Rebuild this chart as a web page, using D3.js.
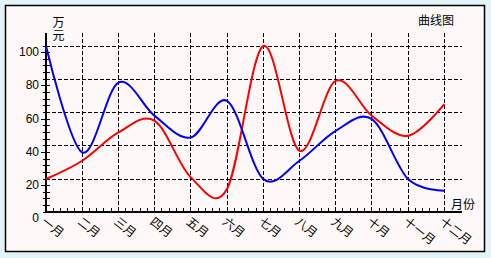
<!DOCTYPE html>
<html>
<head>
<meta charset="utf-8">
<script src="https://cdn.jsdelivr.net/npm/d3@7"></script>
<style>
  html, body { margin: 0; padding: 0; background: #e3f4f8; }
  svg { display: block; }
  text { font-family: "Liberation Sans", Arial, sans-serif; font-size: 12px; fill: #000; }
  .cjk { font-family: "Noto Sans CJK SC", sans-serif; }
</style>
</head>
<body>
<script>
// months along the bottom
const months = ["一月", "二月", "三月", "四月", "五月", "六月", "七月", "八月", "九月", "十月", "十一月", "十二月"];
// two series, 万元
const redValues = [20, 31, 48, 55, 21, 14, 100, 37, 79, 58, 46, 65];
const blueValues = [100, 36, 78, 58, 45, 67, 20, 31, 49, 56, 20, 13];
const yLabels = [0, 20, 40, 60, 80, 100];

const width = 491, height = 258;

const svg = d3.select("body").append("svg")
    .attr("width", width)
    .attr("height", height);

// panel
svg.append("rect")
    .attr("x", 5.5).attr("y", 5.5)
    .attr("width", 479).attr("height", 246)
    .attr("fill", "#fffaf9")
    .attr("stroke", "#000")
    .attr("stroke-width", 1.5);

const x = d3.scaleLinear().domain([0, 11]).range([46, 444.3]);
const y = d3.scaleLinear().domain([0, 100]).range([212.3, 46]);

const g = svg.append("g").attr("shape-rendering", "crispEdges");

// dashed grid
g.selectAll(".vgrid")
  .data(d3.range(1, 12))
  .join("line")
    .attr("x1", d => x(d)).attr("x2", d => x(d))
    .attr("y1", y(108)).attr("y2", y(0))
    .attr("stroke", "#000").attr("stroke-dasharray", "4,2");

g.selectAll(".hgrid")
  .data(yLabels.slice(1))
  .join("line")
    .attr("x1", x(0)).attr("x2", x(11.5))
    .attr("y1", d => y(d)).attr("y2", d => y(d))
    .attr("stroke", "#000").attr("stroke-dasharray", "4,2");

// y ticks every 4
g.selectAll(".ytick")
  .data(d3.range(0, 101, 4))
  .join("line")
    .attr("x1", d => d % 20 === 16 ? x(0) - 5 : x(0) - 3)
    .attr("x2", x(0) + 4)
    .attr("y1", d => y(d)).attr("y2", d => y(d))
    .attr("stroke", "#000");

// x minor ticks
g.selectAll(".xtick")
  .data(d3.range(0, 55).map(i => i / 5))
  .join("line")
    .attr("x1", d => x(d)).attr("x2", d => x(d))
    .attr("y1", y(0) - 4).attr("y2", y(0))
    .attr("stroke", "#000");

// axes
g.append("line")
    .attr("x1", x(0)).attr("x2", x(0))
    .attr("y1", y(108)).attr("y2", y(0))
    .attr("stroke", "#000").attr("stroke-width", 2);
g.append("line")
    .attr("x1", x(0)).attr("x2", x(11.5))
    .attr("y1", y(0)).attr("y2", y(0))
    .attr("stroke", "#000").attr("stroke-width", 2);

// y labels (hang just below their grid line, like the original)
svg.selectAll(".ylab")
  .data(yLabels)
  .join("text")
    .attr("x", 39)
    .attr("y", d => y(d) + 10)
    .attr("text-anchor", "end")
    .text(d => d);

// month labels, slanted
svg.selectAll(".xlab")
  .data(months)
  .join("text")
    .attr("class", "cjk")
    .attr("font-size", 11)
    .attr("transform", (d, i) => `translate(${x(i) + 1},${y(0) + 3}) rotate(38)`)
    .attr("dy", "0.85em")
    .text(d => d);

// unit (stacked vertically) and titles
svg.append("text").attr("class", "cjk")
    .attr("x", 58.5).attr("y", 16)
    .style("writing-mode", "vertical-rl")
    .style("letter-spacing", "1px")
    .text("万元");
svg.append("text").attr("class", "cjk")
    .attr("x", 463).attr("y", 208.5).attr("text-anchor", "middle").text("月份");
svg.append("text").attr("class", "cjk")
    .attr("x", 436).attr("y", 24.5).attr("text-anchor", "middle").text("曲线图");

// curves
const line = d3.line()
    .x((d, i) => x(i))
    .y(d => y(d))
    .curve(d3.curveCardinal.tension(0));

svg.append("path")
    .attr("d", line(redValues))
    .attr("fill", "none")
    .attr("stroke", "#ff0000")
    .attr("stroke-width", 2);

svg.append("path")
    .attr("d", line(blueValues))
    .attr("fill", "none")
    .attr("stroke", "#0000ff")
    .attr("stroke-width", 2);
</script>
</body>
</html>
